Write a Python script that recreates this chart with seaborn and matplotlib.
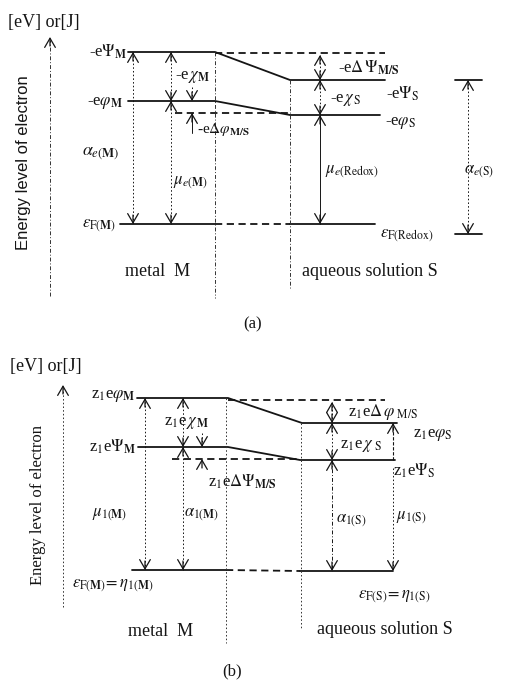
import matplotlib
matplotlib.use("Agg")
import matplotlib.pyplot as plt
import pandas as pd
import seaborn as sns

ink = "#151515"

# energy levels, read off the picture as image rows (smaller = higher energy)
# panel (a): [metal side, solution side]
a_psi = [52, 80]          # -e Psi_M, -e Psi_S
a_phi = [101, 115]        # -e phi_M, -e phi_S
a_fermi = [224, 224]      # eps_F(M), eps_F(Redox)
a_psi_ref = 53            # dashed continuation of -e Psi_M
a_phi_ref = 113           # dashed continuation of -e phi_S
a_alpha_s = [80, 234]     # extent of alpha_e(S)

# panel (b)
b_phi = [398, 423]        # z1 e phi_M, z1 e phi_S
b_psi = [447, 460]        # z1 e Psi_M, z1 e Psi_S
b_fermi = [570, 571]      # eps_F(M), eps_F(S)
b_phi_ref = 400
b_psi_ref = 459

DOT = (0, (1.6, 2.2))
DASHDOT = (0, (4, 2, 1, 2))


def build_segments():
    """Collect the level lines of both panels into one long table."""
    rows = []

    def seg(name, kind, xs, ys):
        for x, y in zip(xs, ys):
            rows.append({"seg": name, "kind": kind, "x": x, "y": y})

    # (a)
    seg("a_psi", "solid", [128, 215, 290, 385], [a_psi[0], a_psi[0], a_psi[1], a_psi[1]])
    seg("a_psi_ref", "dash", [215, 385], [a_psi_ref, a_psi_ref])
    seg("a_phi", "solid", [128, 215, 290, 380], [a_phi[0], a_phi[0], a_phi[1], a_phi[1]])
    seg("a_phi_ref", "dash", [175, 290], [a_phi_ref, a_phi_ref])
    seg("a_fm", "solid", [120, 215], [a_fermi[0], a_fermi[0]])
    seg("a_fmid", "dash", [215, 290], [a_fermi[0], a_fermi[1]])
    seg("a_fs", "solid", [290, 375], [a_fermi[1], a_fermi[1]])
    seg("a_as_top", "solid", [455, 482], [a_alpha_s[0], a_alpha_s[0]])
    seg("a_as_bot", "solid", [455, 482], [a_alpha_s[1], a_alpha_s[1]])
    # (b)
    seg("b_phi", "solid", [137, 228, 302, 397], [b_phi[0], b_phi[0], b_phi[1], b_phi[1]])
    seg("b_phi_ref", "dash", [228, 385], [b_phi_ref, b_phi_ref])
    seg("b_psi", "solid", [138, 228, 300, 395], [b_psi[0], b_psi[0], b_psi[1], b_psi[1]])
    seg("b_psi_ref", "dash", [172, 300], [b_psi_ref, b_psi_ref])
    seg("b_fm", "solid", [132, 226], [b_fermi[0], b_fermi[0]])
    seg("b_fmid", "dash", [226, 300], [b_fermi[0], b_fermi[1]])
    seg("b_fs", "solid", [300, 393], [b_fermi[1], b_fermi[1]])
    return pd.DataFrame(rows)


def head(ax, x, y, up):
    # open arrow head with its tip on the level line
    off = 9 if up else -9
    ax.annotate("", xy=(x, y), xytext=(x, y + off),
                arrowprops=dict(arrowstyle="->,head_length=0.55,head_width=0.32",
                                color=ink, lw=0.9, shrinkA=0, shrinkB=0,
                                mutation_scale=12))


def span(ax, x, y_top, y_bot, ls=DOT):
    ax.plot([x, x], [y_top, y_bot], color=ink, lw=0.7, ls=ls)
    head(ax, x, y_top, up=True)
    head(ax, x, y_bot, up=False)


def vline(ax, x, y0, y1, ls=DOT):
    ax.plot([x, x], [y0, y1], color="#333333", lw=0.7, ls=ls)


def label(ax, x, y, s, ha="left", size=11, **kw):
    ax.text(x, y, s, ha=ha, va="center", size=size, color=ink, **kw)


def draw_panel_a(ax):
    # energy axis
    vline(ax, 50, 296, 40, ls=DASHDOT)
    head(ax, 50, 37, up=True)
    vline(ax, 215, a_psi[0], 298, ls=DASHDOT)
    vline(ax, 290, a_psi[1], 288, ls=DASHDOT)

    span(ax, 133, a_psi[0], a_fermi[0])
    span(ax, 171, a_psi[0], a_phi[0])
    span(ax, 171, a_phi[0], a_fermi[0])
    ax.plot([192, 192], [87, a_phi[0]], color=ink, lw=0.7, ls=DOT)
    head(ax, 192, a_phi[0], up=False)
    ax.plot([192, 192], [a_phi_ref, 133], color=ink, lw=0.7)
    head(ax, 192, a_phi_ref, up=True)
    span(ax, 320, a_psi_ref + 2, a_psi[1])
    span(ax, 320, a_psi[1], a_phi[1])
    span(ax, 320, a_phi[1], a_fermi[1], ls="-")
    span(ax, 468, a_alpha_s[0], a_alpha_s[1])

    label(ax, 8, 22, "[eV] or[J]", size=13)
    ax.text(24, 163, "Energy level of electron", rotation=90, ha="center",
            va="center", size=12, color=ink, family=["Liberation Sans", "DejaVu Sans"])
    label(ax, 127, 52, r"-e$\Psi_{\mathbf{M}}$", ha="right", size=12)
    label(ax, 175, 77, r"-e$\,\chi_{\mathbf{M}}$", size=12)
    label(ax, 123, 103, r"-e$\varphi_{\mathbf{M}}$", ha="right", size=12)
    label(ax, 197, 129, r"-e$\Delta\varphi_{\mathbf{M/S}}$", size=11)
    label(ax, 82, 153, r"$\alpha_{e(\mathbf{M})}$", size=13)
    label(ax, 173, 183, r"$\mu_{e(\mathbf{M})}$", size=12)
    label(ax, 116, 226, r"$\varepsilon_{\mathrm{F(\mathbf{M})}}$", ha="right", size=12)
    label(ax, 158, 271, "metal  M", ha="center", size=13)
    label(ax, 338, 68, r"-e$\Delta\,\Psi_{\mathbf{M/S}}$", size=12)
    label(ax, 386, 94, r"-e$\Psi_{\mathrm{S}}$", size=12)
    label(ax, 330, 100, r"-e$\,\chi_{\,\mathrm{S}}$", size=12)
    label(ax, 385, 123, r"-e$\varphi_{\mathrm{S}}$", size=12)
    label(ax, 325, 172, r"$\mu_{e(\mathrm{Redox})}$", size=12)
    label(ax, 464, 172, r"$\alpha_{e(\mathrm{S})}$", size=12)
    label(ax, 380, 236, r"$\varepsilon_{\mathrm{F(Redox)}}$", size=12)
    label(ax, 370, 272, "aqueous solution S", ha="center", size=13)
    label(ax, 253, 324, "(a)", ha="center", size=12)


def draw_panel_b(ax):
    vline(ax, 63, 607, 388)
    head(ax, 63, 385, up=True)
    vline(ax, 226, b_phi[0], 643)
    vline(ax, 301, b_phi[1], 628)

    span(ax, 145, b_phi[0], b_fermi[0])
    span(ax, 183, b_phi[0], b_psi[0])
    span(ax, 183, b_psi[0], b_fermi[0])
    ax.plot([202, 202], [433, b_psi[0]], color=ink, lw=0.7, ls=DOT)
    head(ax, 202, b_psi[0], up=False)
    head(ax, 202, b_psi_ref, up=True)
    span(ax, 332, b_phi_ref + 2, b_phi[1])
    span(ax, 332, b_phi[1], b_psi[1])
    span(ax, 332, b_psi[1], b_fermi[1], ls=DASHDOT)
    ax.plot([393, 393], [b_psi[1], b_phi[1]], color=ink, lw=0.8, ls=(0, (3, 1.5)))
    head(ax, 393, b_phi[1], up=True)
    ax.plot([393, 393], [b_psi[1] + 8, b_fermi[1]], color=ink, lw=0.7, ls=DOT)
    head(ax, 393, b_fermi[1], up=False)

    label(ax, 10, 366, "[eV] or[J]", size=13)
    ax.text(38, 505, "Energy level of electron", rotation=90, ha="center",
            va="center", size=12, color=ink, family=["Liberation Serif", "DejaVu Serif"])
    label(ax, 136, 396, r"z$_{1}$e$\varphi_{\mathbf{M}}$", ha="right", size=12)
    label(ax, 164, 423, r"z$_{1}$e$\,\chi_{\,\mathbf{M}}$", size=12)
    label(ax, 136, 447, r"z$_{1}$e$\Psi_{\mathbf{M}}$", ha="right", size=12)
    label(ax, 208, 482, r"z$_{1}$e$\Delta\Psi_{\mathbf{M/S}}$", size=12)
    label(ax, 92, 515, r"$\mu_{1(\mathbf{M})}$", size=12)
    label(ax, 184, 515, r"$\alpha_{1(\mathbf{M})}$", size=12)
    label(ax, 72, 586, r"$\varepsilon_{\mathrm{F}(\mathbf{M})}\!=\eta_{1(\mathbf{M})}$", size=12)
    label(ax, 161, 632, "metal  M", ha="center", size=13)
    label(ax, 348, 412, r"z$_{1}$e$\Delta\,\varphi_{\ \mathrm{M/S}}$", size=12)
    label(ax, 413, 435, r"z$_{1}$e$\varphi_{\mathrm{S}}$", size=12)
    label(ax, 340, 446, r"z$_{1}$e$\,\chi_{\ \mathrm{S}}$", size=12)
    label(ax, 393, 471, r"z$_{1}$e$\Psi_{\mathrm{S}}$", size=12)
    label(ax, 336, 521, r"$\alpha_{1(\mathrm{S})}$", size=12)
    label(ax, 396, 518, r"$\mu_{1(\mathrm{S})}$", size=12)
    label(ax, 358, 597, r"$\varepsilon_{\mathrm{F(S)}}\!=\eta_{1(\mathrm{S})}$", size=12)
    label(ax, 385, 630, "aqueous solution S", ha="center", size=13)
    label(ax, 232, 671, "(b)", ha="center", size=12)


def main():
    sns.set_theme(style="white")
    plt.rcParams["font.family"] = ["Liberation Serif", "DejaVu Serif"]
    plt.rcParams["mathtext.fontset"] = "stix"

    fig = plt.figure(figsize=(5.08, 6.8), dpi=100)
    ax = fig.add_axes([0, 0, 1, 1])

    # the level lines
    levels = build_segments()
    sns.lineplot(data=levels, x="x", y="y", units="seg", estimator=None,
                 style="kind", dashes={"solid": "", "dash": (4, 2.5)},
                 color=ink, linewidth=1.3, sort=False, legend=False, ax=ax)

    draw_panel_a(ax)
    draw_panel_b(ax)

    ax.set_xlim(0, 508)
    ax.set_ylim(680, 0)
    ax.axis("off")
    fig.savefig("out.png", dpi=100, facecolor="white")


if __name__ == "__main__":
    main()
